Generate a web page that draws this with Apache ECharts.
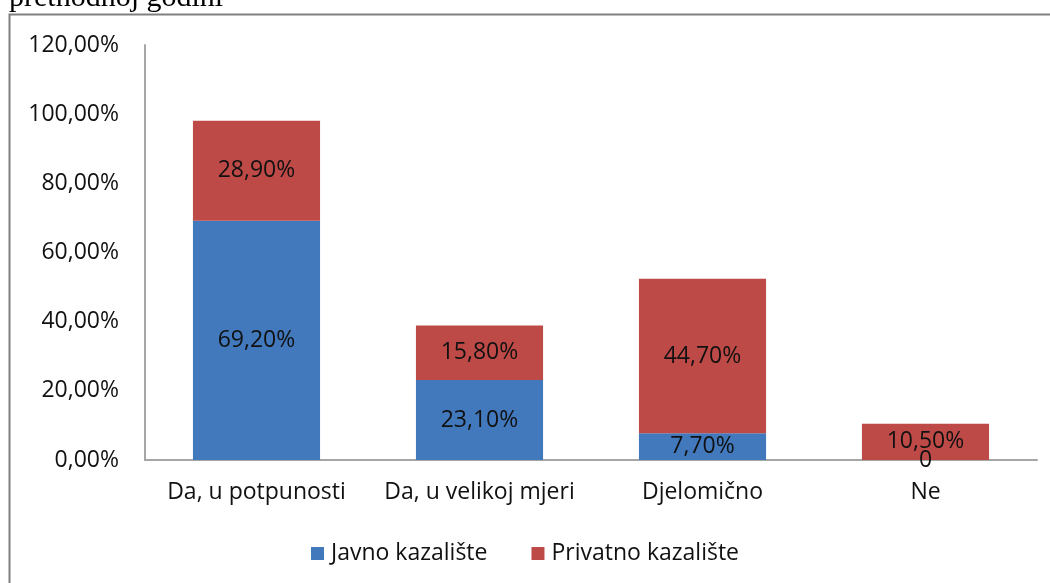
<!DOCTYPE html>
<html lang="hr">
<head>
  <meta charset="UTF-8">
  <title>Kazalište</title>
  <style>
    html, body{margin: 0; padding: 0; background: #fff}
    #box{width: 1050px; height: 583px}
  </style>
  <script src="https://cdn.jsdelivr.net/npm/echarts@6/dist/echarts.min.js"></script>
</head>
<body>
  <div id="box"></div>
  <script>
    const categories = ['Da, u potpunosti', 'Da, u velikoj mjeri', 'Djelomično', 'Ne'];
    const javno = [69.2, 23.1, 7.7, 0];
    const privatno = [28.9, 15.8, 44.7, 10.5];
    const seriesNames = ['Javno kazalište', 'Privatno kazalište'];

    const font = '"Open Sans", "Noto Sans", sans-serif';
    const pct = v => v.toFixed(2).replace('.', ',') + '%';

    let chart = echarts.init(document.getElementById('box'));

    function bar(name, data, color){
      return {
        name: name,
        type: 'bar',
        stack: 'total',
        barWidth: '57%',
        data: data,
        itemStyle: {color: color},
        label: {
          show: true,
          position: 'inside',
          color: '#111',
          fontFamily: font,
          fontSize: 23,
          formatter: p => p.value === 0 ? '0' : pct(p.value)
        },
        emphasis: {disabled: true}
      };
    }

    chart.setOption({
      animation: false,
      textStyle: {fontFamily: font},
      graphic: [{
        type: 'text',
        left: 9,
        top: -17,
        style: {text: 'prethodnoj godini', font: '30px "Liberation Serif", "DejaVu Serif", serif', fill: '#000'}
      }, {
        type: 'polyline',
        shape: {points: [[9.5, 583], [9.5, 14.5], [1050, 14.5]]},
        style: {stroke: '#808080', lineWidth: 2, fill: null}
      }],
      legend: {
        data: seriesNames,
        left: 'center',
        top: 537,
        itemWidth: 13,
        itemHeight: 13,
        itemGap: 44,
        icon: 'rect',
        textStyle: {fontSize: 23, color: '#111', fontFamily: font, padding: [0, 0, 0, 2]}
      },
      grid: {left: 145, right: 13, top: 45, bottom: 123},
      xAxis: {
        type: 'category',
        data: categories,
        axisLine: {lineStyle: {color: '#a6a6a6', width: 2}},
        axisTick: {show: false},
        axisLabel: {color: '#111', fontSize: 23, margin: 21, interval: 0}
      },
      yAxis: {
        type: 'value',
        min: 0,
        max: 120,
        interval: 20,
        axisLine: {show: true, lineStyle: {color: '#a6a6a6', width: 2}},
        axisTick: {show: false},
        splitLine: {show: false},
        axisLabel: {color: '#111', fontSize: 23, margin: 26, formatter: v => pct(v)}
      },
      series: [
        bar(seriesNames[0], javno, '#4279bd'),
        bar(seriesNames[1], privatno, '#be4a47')
      ]
    });
  </script>
</body>
</html>
